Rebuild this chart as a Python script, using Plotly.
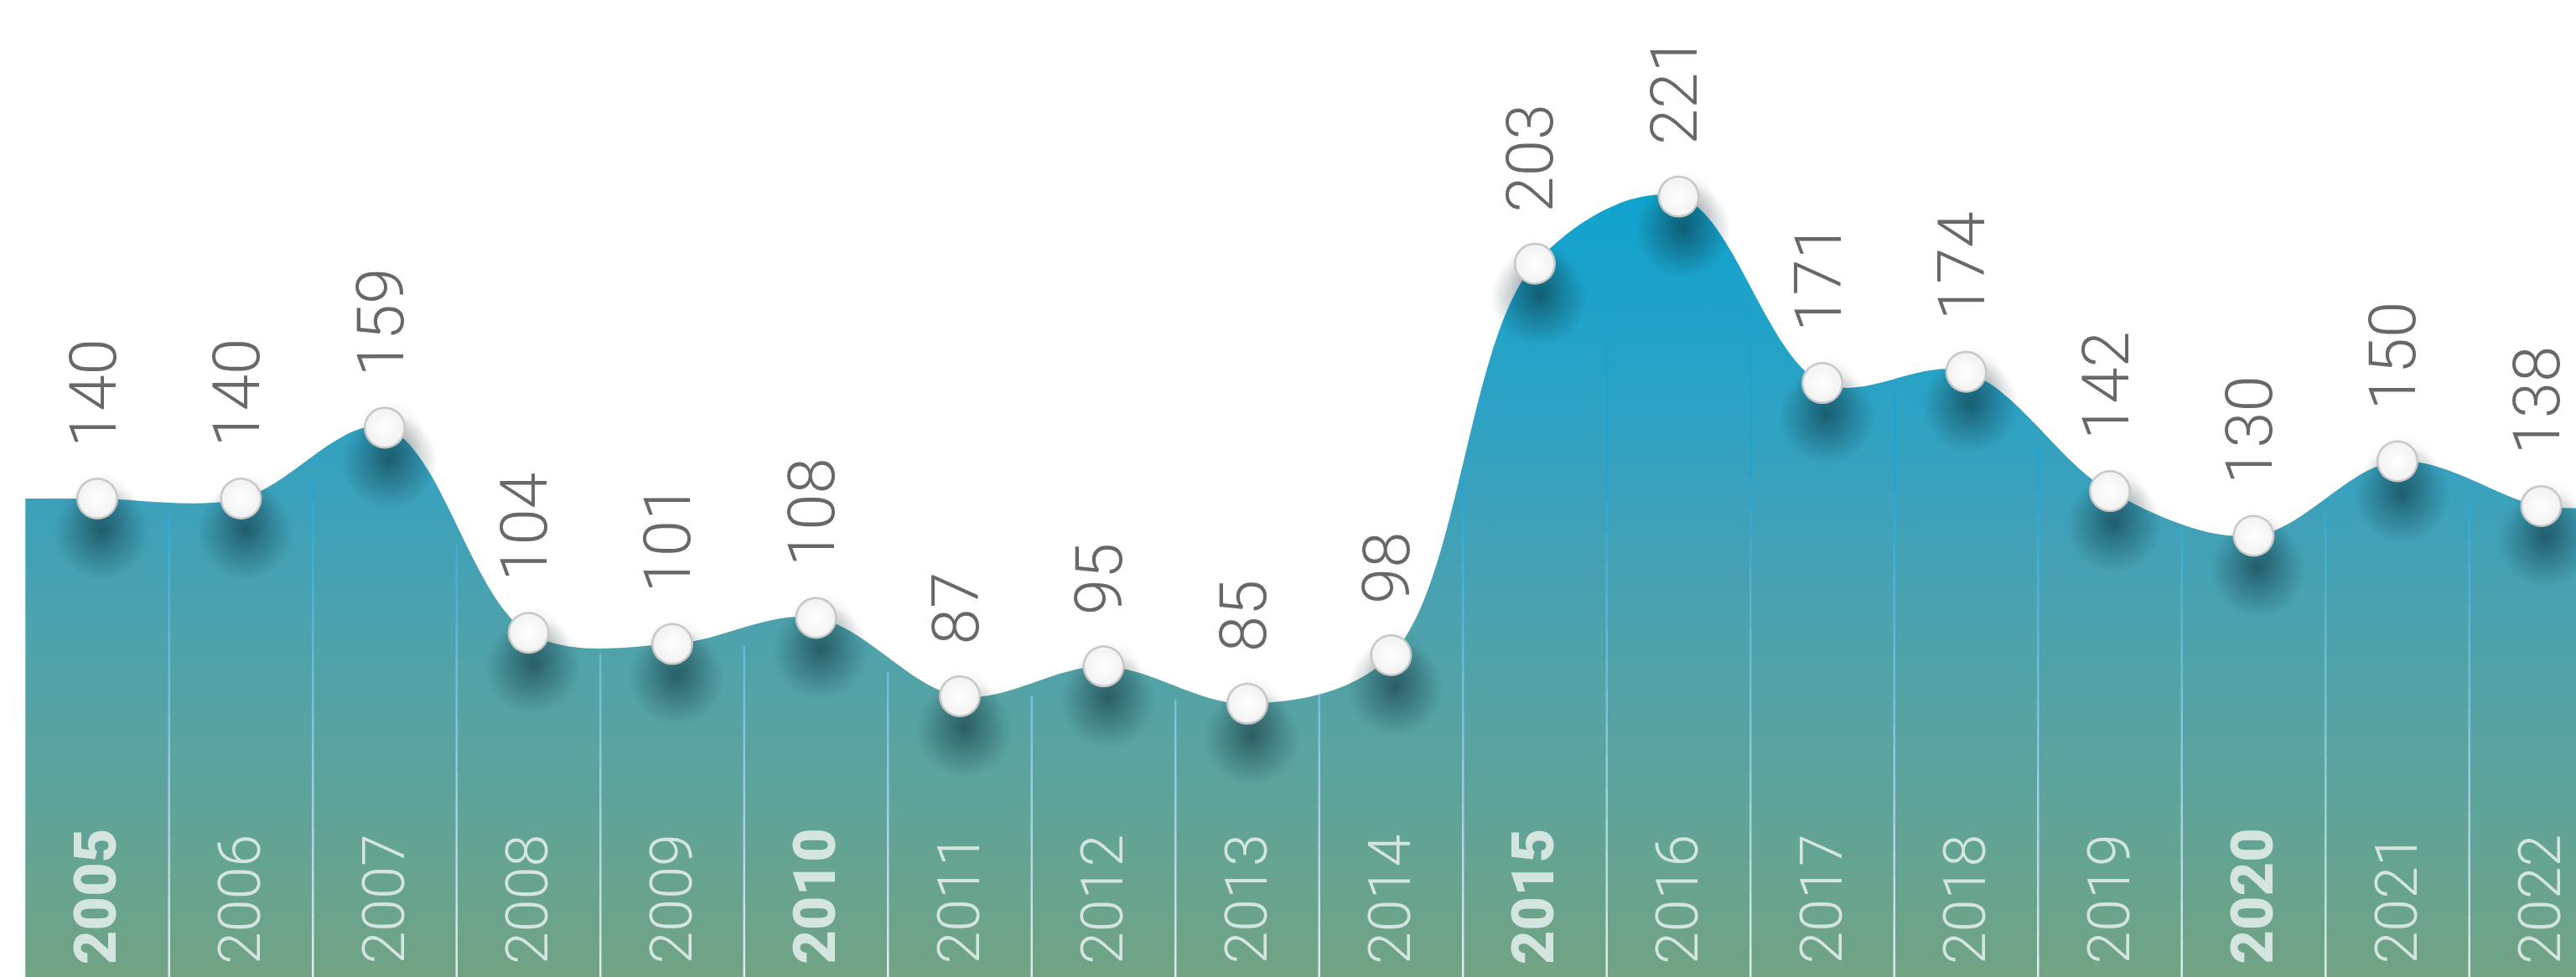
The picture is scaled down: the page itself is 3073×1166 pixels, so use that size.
import numpy as np
import plotly.graph_objects as go

# ---------------- data ----------------
years = [2005, 2006, 2007, 2008, 2009, 2010, 2011, 2012, 2013,
         2014, 2015, 2016, 2017, 2018, 2019, 2020, 2021, 2022]
values = [140, 140, 159, 104, 101, 108, 87, 95, 85,
          98, 203, 221, 171, 174, 142, 130, 150, 138]
bold_years = [2005, 2010, 2015, 2020]

# ---------------- geometry / style ----------------
W, H = 3073, 1166
PX_PER_CAT = 171.5
FIRST_CAT_PX = 116.0
X_MIN = -FIRST_CAT_PX / PX_PER_CAT
X_MAX = X_MIN + W / PX_PER_CAT
Y_RANGE = [11.7, 273.7]

n = len(years)
idx = list(range(n))

area_x = [-0.5] + idx + [n - 0.5]
area_y = [values[0]] + values + [values[-1]]

fig = go.Figure()

# gradient-filled smooth area
fig.add_trace(go.Scatter(
    x=area_x, y=area_y, mode="lines",
    line=dict(shape="spline", smoothing=1.0, width=0, color="#12a3cd"),
    fill="tozeroy",
    fillgradient=dict(
        type="vertical",
        start=Y_RANGE[0], stop=222,
        colorscale=[
            [0.0, "#72a383"],
            [0.23, "#5ea39b"],
            [0.39, "#52a2a8"],
            [0.60, "#3da1bb"],
            [0.77, "#28a2c6"],
            [1.0, "#0fa3ce"],
        ],
    ),
    hoverinfo="skip", showlegend=False,
))

# column divider lines (gradient: blue at top -> white at bottom)
stops_v = [Y_RANGE[0], 80, 150]
stops_r = [236, 135, 24]
stops_g = [246, 198, 162]
stops_b = [248, 226, 213]
shapes = []
for j in range(n - 1):
    xd = j + 0.5
    top = (values[j] + values[j + 1]) / 2.0 - 4
    segs = np.linspace(Y_RANGE[0], top, 24)
    for a, b in zip(segs[:-1], segs[1:]):
        m = (a + b) / 2
        r = int(np.interp(m, stops_v, stops_r))
        g = int(np.interp(m, stops_v, stops_g))
        bl = int(np.interp(m, stops_v, stops_b))
        shapes.append(dict(type="line", xref="x", yref="y",
                           x0=xd, x1=xd, y0=a, y1=b,
                           line=dict(color=f"rgba({r},{g},{bl},0.9)", width=2.5)))

# soft drop shadows under the markers (gradient.color = centre colour for radial)
SHADOW_DY = 9
fig.add_trace(go.Scatter(
    x=[i + 0.03 for i in idx], y=[v - SHADOW_DY for v in values], mode="markers",
    marker=dict(size=115, color="rgba(10,45,55,0)",
                gradient=dict(type="radial", color="rgba(10,45,55,0.55)"),
                line=dict(width=0)),
    hoverinfo="skip", showlegend=False,
))
# light halo around the sphere
fig.add_trace(go.Scatter(
    x=[i + 0.04 for i in idx], y=[v - 2 for v in values], mode="markers",
    marker=dict(size=80, color="rgba(0,0,0,0)",
                gradient=dict(type="radial", color="rgba(0,0,0,0.15)"),
                line=dict(width=0)),
    hoverinfo="skip", showlegend=False,
))

# white spheres: soft grey rim + white body
fig.add_trace(go.Scatter(
    x=idx, y=values, mode="markers",
    marker=dict(size=50, color="#c4c4c4",
                gradient=dict(type="radial", color="#ffffff"),
                line=dict(width=0)),
    hoverinfo="skip", showlegend=False,
))
fig.add_trace(go.Scatter(
    x=idx, y=values, mode="markers",
    marker=dict(size=45, color="#f2f2f2",
                gradient=dict(type="radial", color="#ffffff"),
                line=dict(width=0)),
    hoverinfo="skip", showlegend=False,
))

annotations = []
# value labels
for i, v in zip(idx, values):
    annotations.append(dict(
        x=i, y=v, xref="x", yref="y", text=str(v), showarrow=False,
        textangle=-90, xanchor="center", yanchor="bottom", yshift=60,
        borderpad=0, xshift=-5,
        font=dict(family="Roboto", size=78, color="#686868", weight=300),
    ))
# year labels
for i, yr in zip(idx, years):
    is_bold = yr in bold_years
    annotations.append(dict(
        x=i, y=0, xref="x", yref="paper", text=str(yr), showarrow=False,
        textangle=-90, xanchor="center", yanchor="bottom", yshift=14,
        borderpad=0, xshift=-2,
        font=dict(family="Roboto", size=70, color="#d3e5de",
                  weight=900 if is_bold else 300),
    ))

fig.update_layout(
    width=W, height=H,
    margin=dict(l=0, r=0, t=0, b=0),
    paper_bgcolor="#ffffff", plot_bgcolor="#ffffff",
    xaxis=dict(range=[X_MIN, X_MAX], visible=False, fixedrange=True),
    yaxis=dict(range=Y_RANGE, visible=False, fixedrange=True),
    shapes=shapes, annotations=annotations,
    showlegend=False, hovermode=False,
)

fig.write_html("out.html", config={"displayModeBar": False},
               post_script="document.body.style.margin='0';document.body.style.overflow='hidden';")
